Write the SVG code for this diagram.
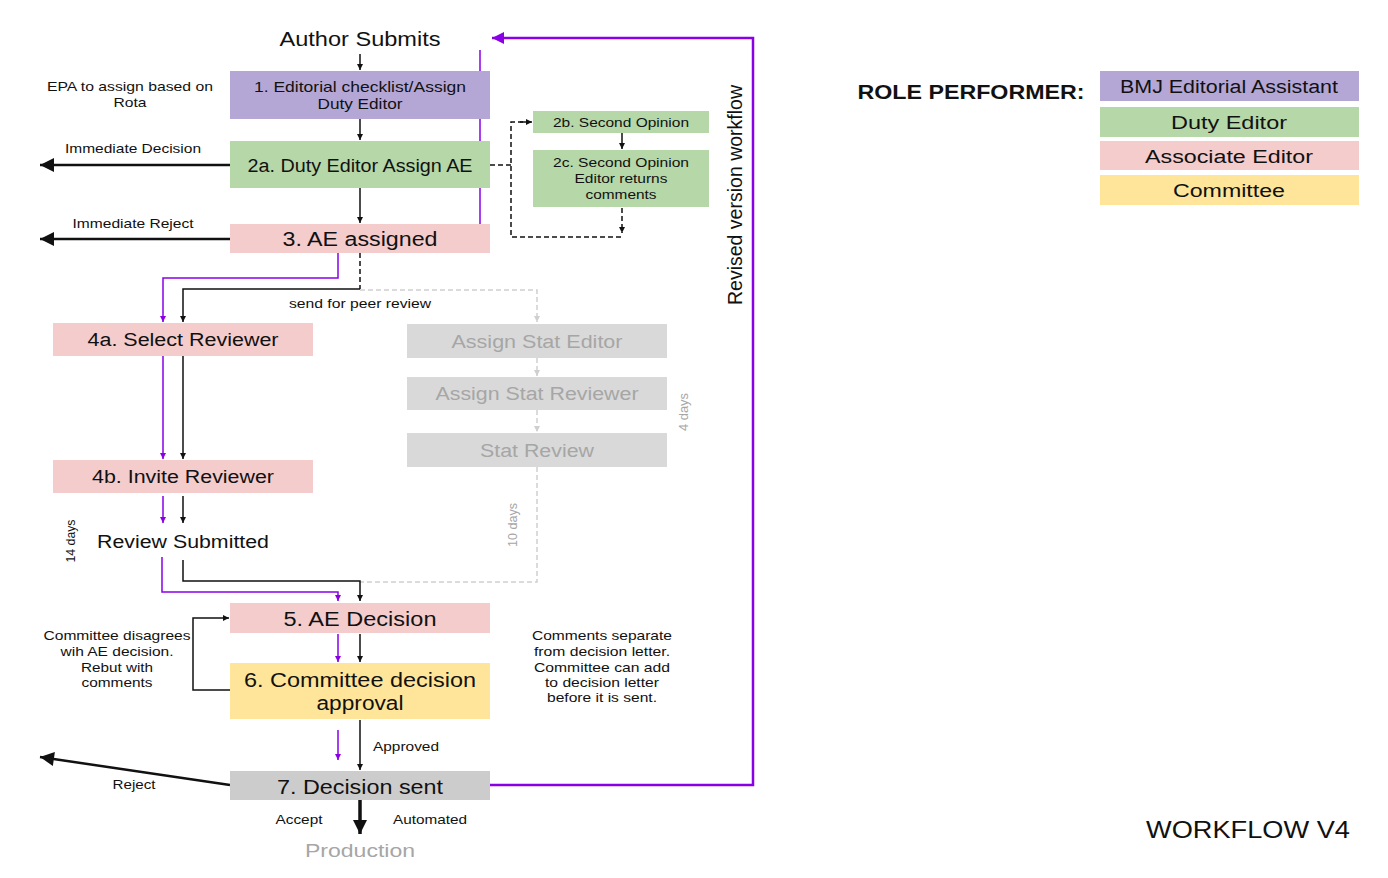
<svg xmlns="http://www.w3.org/2000/svg" width="1388" height="878" viewBox="0 0 1388 878">
<style>
text{font-family:"Liberation Sans",Arial,sans-serif;fill:#111;text-anchor:middle}
.s{font-size:13px}
.m{font-size:15px}
.l{font-size:18px}
.xl{font-size:20px}
.g{fill:#a6a6a6}
.k{stroke:#111;stroke-width:1.5;fill:none}
.kb{stroke:#111;stroke-width:2.5;fill:none}
.kd{stroke:#111;stroke-width:1.5;fill:none;stroke-dasharray:5,3}
.p{stroke:#8a00e6;stroke-width:1.5;fill:none}
.pb{stroke:#8a00e6;stroke-width:2.5;fill:none}
.gd{stroke:#cfcfcf;stroke-width:1.5;fill:none;stroke-dasharray:5,3}
.purple{fill:#b4a7d6}.green{fill:#b6d7a8}.pink{fill:#f4cccc}.yellow{fill:#ffe599}.grey{fill:#cccccc}.lgrey{fill:#d9d9d9}
</style>
<defs>
<marker id="ak" viewBox="0 0 10 10" refX="10" refY="5" markerWidth="6" markerHeight="6" markerUnits="userSpaceOnUse" orient="auto"><path d="M0,0L10,5L0,10z" fill="#111"/></marker>
<marker id="akb" viewBox="0 0 10 10" refX="10" refY="5" markerWidth="18" markerHeight="14" markerUnits="userSpaceOnUse" orient="auto"><path d="M0,0L10,5L0,10z" fill="#111"/></marker>
<marker id="ap" viewBox="0 0 10 10" refX="10" refY="5" markerWidth="6" markerHeight="6" markerUnits="userSpaceOnUse" orient="auto"><path d="M0,0L10,5L0,10z" fill="#8a00e6"/></marker>
<marker id="apb" viewBox="0 0 10 10" refX="10" refY="5" markerWidth="18" markerHeight="12" markerUnits="userSpaceOnUse" orient="auto"><path d="M0,0L10,5L0,10z" fill="#8a00e6"/></marker>
<marker id="ag" viewBox="0 0 10 10" refX="10" refY="5" markerWidth="6" markerHeight="6" markerUnits="userSpaceOnUse" orient="auto"><path d="M0,0L10,5L0,10z" fill="#cfcfcf"/></marker>
</defs>

<g id="connectors">
<line class="k" x1="360" y1="54" x2="360" y2="70" marker-end="url(#ak)"/>
<line class="k" x1="360" y1="119" x2="360" y2="140" marker-end="url(#ak)"/>
<line class="k" x1="360" y1="188" x2="360" y2="223" marker-end="url(#ak)"/>
<line class="kb" x1="230" y1="165" x2="40" y2="165" marker-end="url(#akb)"/>
<line class="kb" x1="230" y1="239" x2="40" y2="239" marker-end="url(#akb)"/>
<line class="p" x1="480" y1="50" x2="480" y2="249" marker-end="url(#ap)"/>
<polyline class="pb" points="490,785 753,785 753,38 492,38" marker-end="url(#apb)"/>
<polyline class="kd" points="490,165 511,165"/>
<polyline class="kd" points="531,122 511,122 511,237 622,237"/>
<line class="k" x1="520" y1="122" x2="532" y2="122" marker-end="url(#ak)"/>
<line class="k" x1="622" y1="133" x2="622" y2="149" marker-end="url(#ak)"/>
<line class="kd" x1="622" y1="208" x2="622" y2="233" marker-end="url(#ak)"/>
<polyline class="p" points="338,253 338,278 163,278 163,322" marker-end="url(#ap)"/>
<line class="kd" x1="360" y1="253" x2="360" y2="289"/>
<polyline class="k" points="360,289 183,289 183,322" marker-end="url(#ak)"/>
<polyline class="gd" points="360,290 537,290 537,322" marker-end="url(#ag)"/>
<line class="gd" x1="537" y1="358" x2="537" y2="376" marker-end="url(#ag)"/>
<line class="gd" x1="537" y1="410" x2="537" y2="432" marker-end="url(#ag)"/>
<polyline class="gd" points="537,467 537,582 360,582"/>
<line class="p" x1="163" y1="356" x2="163" y2="459" marker-end="url(#ap)"/>
<line class="k" x1="183" y1="356" x2="183" y2="459" marker-end="url(#ak)"/>
<line class="p" x1="163" y1="496" x2="163" y2="523" marker-end="url(#ap)"/>
<line class="k" x1="183" y1="496" x2="183" y2="523" marker-end="url(#ak)"/>
<polyline class="p" points="162,557 162,592 338,592 338,601" marker-end="url(#ap)"/>
<polyline class="k" points="183,560 183,581 360,581 360,601" marker-end="url(#ak)"/>
<line class="p" x1="338" y1="634" x2="338" y2="662" marker-end="url(#ap)"/>
<line class="k" x1="360" y1="634" x2="360" y2="662" marker-end="url(#ak)"/>
<polyline class="k" points="230,690 193,690 193,618 229,618" marker-end="url(#ak)"/>
<line class="p" x1="338" y1="730" x2="338" y2="760" marker-end="url(#ap)"/>
<line class="k" x1="360" y1="720" x2="360" y2="770" marker-end="url(#ak)"/>
<line class="kb" x1="230" y1="785" x2="40" y2="757" marker-end="url(#akb)"/>
<line stroke="#111" stroke-width="3.5" x1="360" y1="800" x2="360" y2="834" marker-end="url(#akb)"/>
</g>

<g id="author"><text class="xl" x="360" y="46" textLength="161" lengthAdjust="spacingAndGlyphs">Author Submits</text></g>
<g id="epa"><text class="s" x="130" y="91" textLength="166" lengthAdjust="spacingAndGlyphs">EPA to assign based on</text><text class="s" x="130" y="107" textLength="33" lengthAdjust="spacingAndGlyphs">Rota</text></g>
<g id="n1"><rect class="purple" x="230" y="71" width="260" height="48"/><text class="m" x="360" y="92" textLength="212" lengthAdjust="spacingAndGlyphs">1. Editorial checklist/Assign</text><text class="m" x="360" y="109" textLength="85" lengthAdjust="spacingAndGlyphs">Duty Editor</text></g>
<g id="n2a"><rect class="green" x="230" y="141" width="260" height="47"/><text class="l" x="360" y="172" textLength="225" lengthAdjust="spacingAndGlyphs">2a. Duty Editor Assign AE</text></g>
<g id="lab-imd"><text class="s" x="133" y="153" textLength="136" lengthAdjust="spacingAndGlyphs">Immediate Decision</text></g>
<g id="lab-imr"><text class="s" x="133" y="228" textLength="121" lengthAdjust="spacingAndGlyphs">Immediate Reject</text></g>
<g id="n3"><rect class="pink" x="230" y="224" width="260" height="29"/><text class="xl" x="360" y="246" textLength="155" lengthAdjust="spacingAndGlyphs">3. AE assigned</text></g>
<g id="n2b"><rect class="green" x="533" y="111" width="176" height="22"/><text class="s" x="621" y="127" textLength="136" lengthAdjust="spacingAndGlyphs">2b. Second Opinion</text></g>
<g id="n2c"><rect class="green" x="533" y="150" width="176" height="57"/><text class="s" x="621" y="167" textLength="136" lengthAdjust="spacingAndGlyphs">2c. Second Opinion</text><text class="s" x="621" y="183" textLength="93" lengthAdjust="spacingAndGlyphs">Editor returns</text><text class="s" x="621" y="199" textLength="71" lengthAdjust="spacingAndGlyphs">comments</text></g>
<g id="revised"><text class="xl" transform="translate(742,195) rotate(-90)" textLength="220" lengthAdjust="spacingAndGlyphs">Revised version workflow</text></g>
<g id="lab-peer"><text class="s" x="360" y="308" textLength="142" lengthAdjust="spacingAndGlyphs">send for peer review</text></g>
<g id="n4a"><rect class="pink" x="53" y="323" width="260" height="33"/><text class="l" x="183" y="346" textLength="191" lengthAdjust="spacingAndGlyphs">4a. Select Reviewer</text></g>
<g id="n4b"><rect class="pink" x="53" y="460" width="260" height="33"/><text class="l" x="183" y="483" textLength="182" lengthAdjust="spacingAndGlyphs">4b. Invite Reviewer</text></g>
<g id="review"><text class="l" x="183" y="548" textLength="172" lengthAdjust="spacingAndGlyphs">Review Submitted</text></g>
<g id="days14"><text class="s" transform="translate(75,541) rotate(-90)" textLength="43" lengthAdjust="spacingAndGlyphs">14 days</text></g>
<g id="se"><rect class="lgrey" x="407" y="324" width="260" height="34"/><text class="l g" x="537" y="348" textLength="171" lengthAdjust="spacingAndGlyphs">Assign Stat Editor</text></g>
<g id="sr"><rect class="lgrey" x="407" y="377" width="260" height="33"/><text class="l g" x="537" y="400" textLength="203" lengthAdjust="spacingAndGlyphs">Assign Stat Reviewer</text></g>
<g id="srev"><rect class="lgrey" x="407" y="433" width="260" height="34"/><text class="l g" x="537" y="457" textLength="114" lengthAdjust="spacingAndGlyphs">Stat Review</text></g>
<g id="days4"><text class="s g" transform="translate(688,412) rotate(-90)" textLength="38" lengthAdjust="spacingAndGlyphs">4 days</text></g>
<g id="days10"><text class="s g" transform="translate(517,525) rotate(-90)" textLength="44" lengthAdjust="spacingAndGlyphs">10 days</text></g>
<g id="n5"><rect class="pink" x="230" y="603" width="260" height="30"/><text class="xl" x="360" y="626" textLength="153" lengthAdjust="spacingAndGlyphs">5. AE Decision</text></g>
<g id="n6"><rect class="yellow" x="230" y="663" width="260" height="56"/><text class="xl" x="360" y="687" textLength="232" lengthAdjust="spacingAndGlyphs">6. Committee decision</text><text class="xl" x="360" y="710" textLength="87" lengthAdjust="spacingAndGlyphs">approval</text></g>
<g id="rebut"><text class="s" x="117" y="640" textLength="147" lengthAdjust="spacingAndGlyphs">Committee disagrees</text><text class="s" x="117" y="656" textLength="113" lengthAdjust="spacingAndGlyphs">wih AE decision.</text><text class="s" x="117" y="672" textLength="72" lengthAdjust="spacingAndGlyphs">Rebut with</text><text class="s" x="117" y="687" textLength="71" lengthAdjust="spacingAndGlyphs">comments</text></g>
<g id="comments"><text class="s" x="602" y="640" textLength="140" lengthAdjust="spacingAndGlyphs">Comments separate</text><text class="s" x="602" y="656" textLength="136" lengthAdjust="spacingAndGlyphs">from decision letter.</text><text class="s" x="602" y="672" textLength="136" lengthAdjust="spacingAndGlyphs">Committee can add</text><text class="s" x="602" y="687" textLength="114" lengthAdjust="spacingAndGlyphs">to decision letter</text><text class="s" x="602" y="702" textLength="110" lengthAdjust="spacingAndGlyphs">before it is sent.</text></g>
<g id="lab-approved"><text class="s" x="406" y="751" textLength="66" lengthAdjust="spacingAndGlyphs">Approved</text></g>
<g id="n7"><rect class="grey" x="230" y="771" width="260" height="29"/><text class="xl" x="360" y="794" textLength="166" lengthAdjust="spacingAndGlyphs">7. Decision sent</text></g>
<g id="lab-reject"><text class="s" x="134" y="789" textLength="43" lengthAdjust="spacingAndGlyphs">Reject</text></g>
<g id="lab-accept"><text class="s" x="299" y="824" textLength="47" lengthAdjust="spacingAndGlyphs">Accept</text></g>
<g id="lab-auto"><text class="s" x="430" y="824" textLength="74" lengthAdjust="spacingAndGlyphs">Automated</text></g>
<g id="production"><text class="l g" x="360" y="857" textLength="110" lengthAdjust="spacingAndGlyphs">Production</text></g>

<g id="legend">
<text x="971" y="99" style="font-size:20px;font-weight:bold" textLength="227" lengthAdjust="spacingAndGlyphs">ROLE PERFORMER:</text>
<rect class="purple" x="1100" y="71" width="259" height="30"/><text class="l" x="1229" y="93" textLength="218" lengthAdjust="spacingAndGlyphs">BMJ Editorial Assistant</text>
<rect class="green" x="1100" y="107" width="259" height="30"/><text class="l" x="1229" y="129" textLength="116" lengthAdjust="spacingAndGlyphs">Duty Editor</text>
<rect class="pink" x="1100" y="141" width="259" height="29"/><text class="l" x="1229" y="163" textLength="168" lengthAdjust="spacingAndGlyphs">Associate Editor</text>
<rect class="yellow" x="1100" y="175" width="259" height="30"/><text class="l" x="1229" y="197" textLength="112" lengthAdjust="spacingAndGlyphs">Committee</text>
</g>
<g id="title"><text x="1248" y="838" style="font-size:24px" textLength="204" lengthAdjust="spacingAndGlyphs">WORKFLOW V4</text></g>
</svg>
